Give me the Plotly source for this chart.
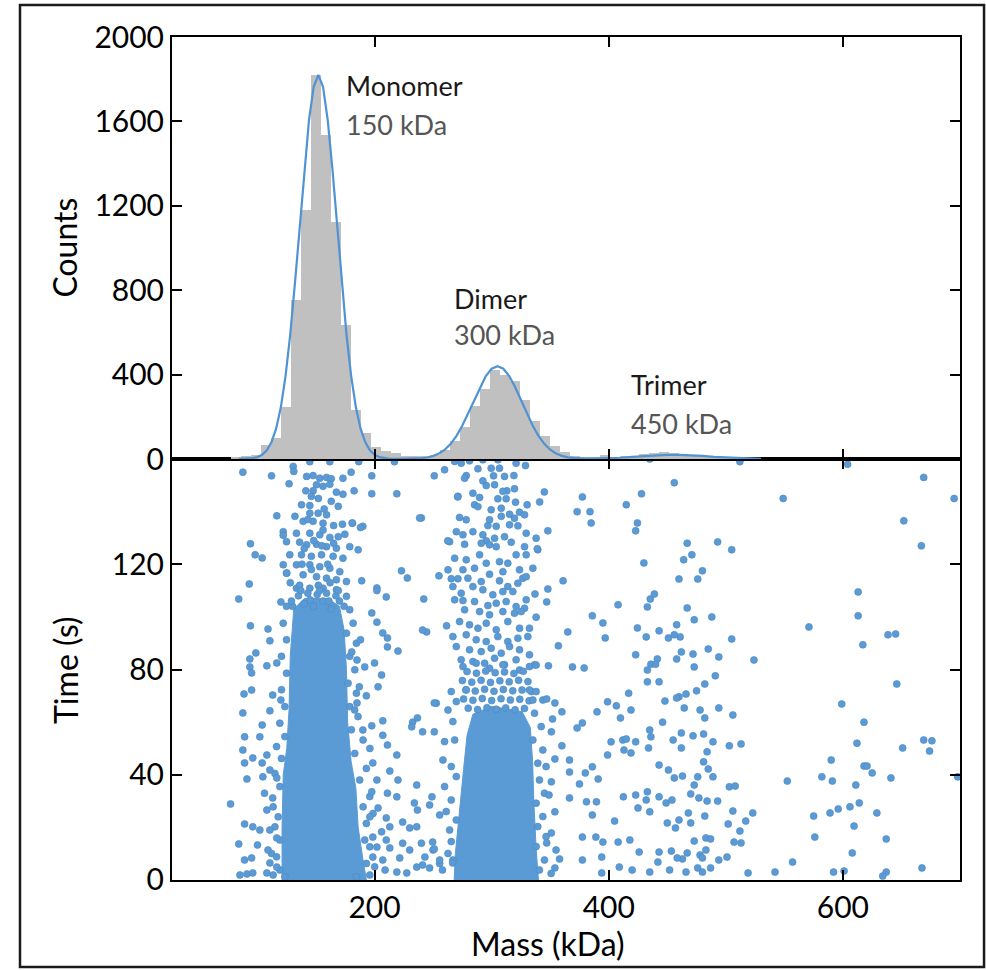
import plotly.graph_objects as go

# ---- histogram (top panel) ----
hist_mass = [82, 90.5, 99, 107.5, 116, 124.5, 133, 141.5, 150, 158.5, 167, 175.5, 184, 192.5,
             201, 209.5, 218, 226.5, 235, 243.5, 252, 260.5, 269, 277.5, 286, 294.5, 303, 311.5,
             320, 328.5, 337, 345.5, 354, 362.5, 371, 379.5, 388, 396.5, 405, 413.5, 422, 430.5,
             439, 447.5, 456, 464.5, 473, 481.5, 490, 498.5, 507, 515.5, 524]
hist_counts = [8, 15, 20, 66, 100, 246, 754, 1180, 1820, 1535, 1123, 635, 232, 123,
               55, 40, 30, 15, 12, 14, 20, 45, 85, 150, 250, 330, 420, 400,
               370, 280, 180, 110, 60, 35, 15, 10, 8, 18, 10, 12, 15, 25,
               30, 32, 30, 25, 15, 12, 10, 8, 5, 4, 3]

fit_mass = [84, 88, 92, 96, 100, 104, 108, 112, 116, 120, 124, 128, 132, 136, 140, 144, 148, 152,
            156, 160, 164, 168, 172, 176, 180, 184, 188, 192, 196, 200, 204, 208, 212, 220, 228,
            235, 240, 245, 250, 255, 260, 265, 270, 275, 280, 285, 290, 295, 300, 305, 310, 315,
            320, 325, 330, 335, 340, 345, 350, 355, 360, 365, 370, 375, 380, 390, 400, 410, 420,
            430, 440, 450, 460, 470, 480, 490, 500, 510, 520, 530]
fit_counts = [1, 1, 2, 4, 9, 20, 41, 80, 145, 246, 394, 591, 833, 1104, 1374, 1606, 1764, 1820,
              1764, 1606, 1374, 1104, 833, 591, 394, 246, 145, 80, 41, 20, 9, 4, 2, 1, 1,
              2, 4, 7, 14, 26, 44, 72, 110, 159, 217, 280, 341, 393, 428, 440, 428, 393,
              341, 280, 217, 159, 110, 72, 44, 26, 15, 8, 5, 3, 2, 3, 4, 6, 10,
              14, 18, 20, 20, 18, 15, 10, 7, 4, 2, 1]

peak_labels = ["Monomer", "Dimer", "Trimer"]
peak_masses = ["150 kDa", "300 kDa", "450 kDa"]
label_x = [174, 266, 417]
label_y = [1772, 763, 351]
sub_y = [1583, 592, 166]

# ---- mass photometry events (bottom panel), (mass kDa, time s) ----
# dense cores, outlined
mono_core = [(121, 0), (193, 0), (190, 8), (186, 20), (184, 35), (180, 45), (177, 60), (176, 80),
             (174, 95), (170, 104), (160, 107), (140, 107), (131, 103), (128, 85), (127, 65),
             (125, 50), (122, 40), (121, 20), (121, 0)]
dimer_core = [(268, 0), (340, 0), (338, 12), (336, 30), (335, 45), (333, 58), (326, 64), (300, 66),
              (284, 63), (279, 55), (276, 42), (272, 25), (269, 10), (268, 0)]

mono_pts = [(130.5, 157.2), (131, 155.3), (144.7, 159), (161.8, 159), (142, 153.4), (147.5, 153.7),
            (153.2, 152.7), (159, 153), (163, 152.5), (173, 152.7), (180, 155), (150.4, 150.2),
            (156, 149.6), (161.8, 150.4), (141.3, 147.9), (147.5, 147.9), (167.4, 147.4), (173, 146.6),
            (182.5, 147.9), (146, 145.8), (137.6, 142.6), (144.7, 142.3), (163, 143.9), (169, 142),
            (144.7, 139.4), (151.8, 139.4), (159, 138.8), (132, 138.2), (139, 136.3), (147.5, 136.3),
            (156, 135.6), (165, 134.7), (172.6, 135.2), (181, 135.6), (190, 134.4), (122, 132.4),
            (133.3, 131.8), (144.7, 131.8), (153.2, 131.2), (161.8, 130.2), (169, 130.5), (174.6, 131.4),
            (124.8, 128.6), (136, 128.4), (142, 127.4), (150.4, 127.6), (159, 126.7), (167.4, 126.1),
            (178.8, 126.7), (186, 125.5), (127.6, 123.6), (137.6, 123.6), (146, 123), (154.7, 123.6),
            (164.6, 123), (173, 122.3), (122, 119.8), (133.3, 119.8), (144.7, 119.8), (153.2, 119.1),
            (161.8, 118.5), (170.3, 117.2), (124.8, 116.6), (139, 116), (150.4, 115.3), (159, 114.7),
            (167.4, 114.1), (176, 113.4), (133.3, 110.9), (144.7, 110.9), (156, 110.9), (167.4, 110.3),
            (140, 105), (148, 104), (156, 106), (163, 103), (135, 108), (152, 112), (160, 120),
            (140, 126), (148, 129), (156, 133), (143, 137), (152, 145), (157, 141), (138, 120),
            (165, 128), (130, 104), (170, 106), (128, 113), (146, 118), (155, 127),
            (143, 109), (151, 108.5), (159, 109), (167, 108), (136, 112), (162, 113),
            (129, 106), (137, 110), (145, 106.5), (153, 110), (161, 106), (169, 110), (174, 104),
            (116.3, 50.7), (120.5, 46.2), (114.9, 40.5), (119.1, 35.5), (113.4, 27.8), (117.7, 24),
            (114.9, 20.2), (119.1, 15.2), (112, 10.1), (116.3, 8.8), (119.1, 3.8), (113.4, 1.9),
            (123.4, 1.2), (190.2, 53.2), (183.1, 48.1), (193, 42.4), (187.3, 38), (195.9, 31.7),
            (190.2, 27.8), (198.7, 25.3), (193, 21.5), (191.6, 15.2), (195.9, 12.6), (193, 6.3),
            (200.1, 5), (195.9, 1.9), (184.5, 1.2), (124.8, 104), (122, 97.6), (124.8, 91.3),
            (120.5, 85), (124.8, 78.6), (120.5, 72.3), (123.4, 65.9), (119.1, 59.6), (123.4, 54.5),
            (176, 107.8), (178.8, 102.7), (181.7, 97.6), (176, 93.8), (184.5, 90), (178.8, 85),
            (183.1, 79.9), (177.4, 74.8), (184.5, 71), (178.8, 65.9), (185.9, 62.1), (180.2, 57.1)]

dimer_pts = [(268.4, 159.1), (274, 158.4), (281.1, 159.3), (292.5, 159.7), (305.3, 159.7), (320.9, 158.4),
             (328.9, 157.5), (259.8, 155.9), (278.3, 153.7), (288.3, 156.3), (299.6, 156.5), (306.7, 156.5),
             (301.6, 153.6), (311, 153.4), (319, 153.7), (276.9, 152.7), (292.5, 151.7), (295.4, 149.9),
             (302.5, 150.2), (313, 147.9), (319.5, 148.7), (309.6, 147.7), (271.2, 145.8), (284, 147),
             (289.7, 145.4), (305.3, 144.9), (312.4, 144.9), (320.4, 143.6), (330.3, 142.6), (285.4, 142.6),
             (288.3, 141.9), (299.6, 140.7), (308.2, 141.3), (315.3, 139), (323.8, 139.8), (328.1, 138.8),
             (272.6, 137.8), (278.3, 136.9), (298.2, 136.9), (308.2, 138.2), (319.5, 137.5), (296.8, 134.7),
             (303.9, 134.4), (315.3, 135), (322.4, 134.6), (269.8, 132.4), (275.5, 131.2), (284, 132.4),
             (292.5, 131.2), (295.4, 128.9), (302.5, 129.9), (311, 130.5), (329.5, 131.8), (338, 129.9),
             (264.1, 128.6), (276.9, 127.6), (291.1, 128), (298.2, 127.4), (303.9, 126.7), (316.7, 128.4),
             (328.1, 126.7), (339.4, 125.5), (268.4, 122.3), (278.3, 121.7), (289.7, 123.6), (295.4, 120.4),
             (306.7, 121), (313.8, 120.4), (320.9, 123.6), (329.5, 123.6), (262.7, 117.9), (275.5, 117.9),
             (285.4, 118.5), (298.2, 116.2), (309.6, 117.2), (323.8, 117.9), (326.6, 114.7), (335.2, 118.5),
             (265.5, 114.5), (271.2, 114.5), (279.7, 114.7), (291.1, 113.4), (306.7, 113.7), (313.8, 111.5),
             (322.4, 112.8), (329.5, 115.3), (266.9, 111.5), (274, 109), (284, 111.5), (292.5, 110.3),
             (301, 108.4), (309.6, 109.6), (318.1, 109.6), (329.5, 106.5), (268.4, 106.5), (275.5, 106.2),
             (285.4, 105.8), (296.8, 104.3), (303.9, 105.2), (312.4, 105.8), (320.9, 103.9), (328.1, 103.3),
             (276.9, 102.7), (289.7, 102), (298.2, 100.8), (309.6, 102), (319.5, 101.4), (325.2, 102),
             (272.6, 98.2), (281.1, 97), (288.3, 95.7), (295.4, 97.6), (303.9, 95.1), (313.8, 98.2),
             (323.8, 95.7), (332.3, 95.7), (338, 99.9), (266.9, 92.5), (278.3, 93.2), (286.8, 91.3),
             (295.4, 90.6), (305.3, 92.5), (313.8, 90.6), (322.4, 91.9), (330.9, 92.5), (269.8, 88.7),
             (281.1, 87.5), (291.1, 86.8), (299.6, 88.1), (308.2, 86.2), (315.3, 88.7), (323.8, 87.5),
             (332.3, 85.6), (274, 83.7), (284, 83), (294, 82.4), (302.5, 84.3), (311, 81.8),
             (320.9, 83.7), (336.6, 81.8), (275.5, 81.1), (286.8, 82.4), (298.2, 80.5), (309.6, 81.8),
             (323.8, 79.8), (332.3, 81.1), (279, 79.2), (287, 78.6), (295, 79.4), (303, 78.8),
             (311, 79.1), (319, 78.5), (327, 79.3), (275, 75.8), (283, 75.2), (291, 75.9), (299, 75.1),
             (307, 75.7), (315, 75.3), (323, 75.9), (331, 75.4), (278, 72.3), (286, 71.8), (294, 72.5),
             (302, 71.7), (310, 72.4), (318, 71.9), (326, 72.2), (334, 71.6), (276, 68.8), (284, 68.3),
             (292, 69), (300, 68.2), (308, 68.9), (316, 68.4), (324, 68.7), (332, 68.1), (280, 65.3),
             (288, 64.8), (296, 65.5), (304, 64.9), (312, 65.4), (320, 64.7), (328, 65.2),
             (252.7, 67.2), (265.5, 71.6), (269.8, 67.8), (262.7, 64.6), (266.9, 60.2), (259.8, 52.6),
             (268.4, 53.2), (258.4, 45.6), (265.5, 43.1), (259.8, 35.5), (269.8, 39.3), (265.5, 30.4),
             (261.2, 26), (269.8, 22.8), (264.1, 19), (265.5, 14.6), (262.7, 10.1), (266.9, 7.6),
             (255.6, 6.3), (249.9, 11.4), (338, 71.6), (343.7, 68.4), (336.6, 63.4), (342.3, 58.3),
             (335.2, 53.2), (343.7, 49.4), (339.4, 44.4), (346.5, 43.1), (340.8, 38), (345.1, 33),
             (338, 29.2), (343.7, 24.1), (339.4, 20.3), (346.5, 16.5), (338, 12.7), (345.1, 7.6),
             (340.8, 3.8), (350.8, 2.5), (278.3, 72.2), (332.3, 72.2), (335.2, 68.4)]

sparse_pts = [(512, 159), (604, 158), (669, 153), (549, 145), (695, 145), (652, 136.5), (667, 127),
              (467, 128), (493, 128.5), (505, 125.5), (471, 123.6), (464, 121.7), (480, 117.5),
              (476, 114.4), (460, 114.4), (613, 109.5), (613, 100.4), (467, 103.4), (488, 100),
              (473, 98.9), (571, 96.2), (638.5, 93.2), (645, 93.5), (617, 89.4), (461, 92.4),
              (505, 91.6), (485, 87.8), (472, 85.9), (462, 86.7), (494, 84.8), (473, 81), (524, 83.6),
              (491, 77.6), (482, 74.5), (466, 70.7), (475, 71.9), (646, 74.5), (599, 66.9), (460, 69.6),
              (464.5, 65.4), (478, 64.6), (494, 65.4), (482, 61.6), (506, 62.7), (618, 60), (462, 55.9),
              (472, 54.8), (481, 55.5), (489, 52.5), (503, 51), (513, 51.7), (612, 52), (669, 53.2),
              (676, 52.9), (674, 49), (651, 50.2), (462, 50.2), (484, 48.7), (590, 45.6), (481, 44.9),
              (485, 42.2), (618, 43.3), (620.6, 43.3), (625, 40.7), (641, 38.8), (582, 39.2), (591, 37.6),
              (552.5, 37.6), (463, 39.5), (476, 39.2), (489, 39.2), (473, 36.1), (503, 35.4), (508, 35.7),
              (611, 36.1), (698, 39.2), (470, 32.7), (477, 31.2), (484, 30), (493, 30), (614, 29.3),
              (606, 27.8), (596, 27), (589, 25.5), (629, 25.5), (575, 24.3), (523, 25.5), (506, 26.2),
              (482, 24.3), (468, 25.5), (470, 21.7), (460, 22.8), (502, 21.3), (517, 22.4), (609.5, 20.5),
              (512, 18.6), (576, 16.3), (637, 15.6), (473, 14.8), (483, 16), (487, 15.6), (507, 14.4),
              (513, 14.1), (483, 11.4), (467, 10.3), (463, 8), (478, 9.5), (480, 8.4), (494, 7.6),
              (501, 8.7), (608, 10.3), (557, 6.8), (476, 4.6), (487, 4.6), (480, 3), (466, 3),
              (519, 2.7), (542, 3), (592, 3), (601, 3.4), (637, 3), (667.5, 4.6), (634, 1.5),
              (456, 151), (435, 160), (377.5, 145.6), (373, 140), (384, 140), (385, 135.7), (415, 142.6),
              (428, 146.8), (424.5, 135.7), (423, 132.7), (430, 120.5), (361, 113.7), (348, 132.7),
              (339, 125.9), (345, 147.5), (341, 143.7), (348, 110.6), (347, 105.7), (337, 108.7),
              (408, 104.6), (435.5, 106.8), (439, 108.7), (433, 103.8), (386, 100.4), (395, 97.7),
              (365, 94.3), (397, 92), (424.5, 95.8), (432, 92.4), (443, 94.7), (451, 92), (456, 93.2),
              (458, 97), (357, 89), (423, 85.6), (441.5, 84), (436, 82), (458, 84), (369, 81),
              (379, 80.6), (348.5, 81.4), (338, 81.7),
              (347, 68.8), (354, 67.3), (360, 63.9), (352, 61.2), (351, 56.3), (360, 51), (354, 46),
              (351, 37.3), (349, 32.3), (354, 25.9), (351, 17.9), (347, 14.1), (355, 11.4), (358, 8),
              (354, 4.6), (390, 63.9), (399, 67.7), (406.5, 66.2), (410, 61.6), (417, 71), (419, 64.6),
              (433, 79.8), (433, 75.3), (443, 75.3), (440, 82), (448, 68), (458, 69.2), (377.5, 59.7),
              (373, 57.8), (402, 52.5), (399, 47.5), (412, 53.2), (415, 53.6), (423, 52.5), (413, 49.4),
              (419, 48.3), (435, 57), (436, 54.4), (446, 60), (455, 53.2), (434, 50.2), (443, 43.7),
              (451, 41.8), (456, 38.8), (386, 43), (380, 40.7), (391, 38.4), (375, 36.5), (366.5, 45.6),
              (366.5, 41), (366.5, 31.2), (381, 29.7), (389.5, 29.7), (386, 24.7), (412.5, 31.6),
              (423, 32.3), (432, 30.4), (433, 33.5), (443, 31.6), (449, 29.3), (454, 30.4), (425, 27.4),
              (435, 25.9), (450, 21.7), (457, 19.8), (405, 22.4), (408, 14.4), (418, 15.2), (377.5, 16.3),
              (389, 16.3), (395, 14.4), (394, 8.7), (377.5, 7.6), (426, 10.6), (443, 10.6), (453.5, 11),
              (442, 6.8), (458.5, 8.4), (409, 4.9), (420, 3.8), (435, 3), (394, 2.7), (452, 3.8),
              (251, 153.6), (240, 137.6), (255, 115.6), (242, 106.8), (244.5, 94.3), (241, 95),
              (261.5, 96.6), (262.5, 128.9), (271, 145.6), (251, 67.3), (241, 56.3), (251, 56.3),
              (249, 31.6), (247, 28.5), (255.6, 24.7), (249.6, 14.4), (251, 11.8), (243, 8.7),
              (255.6, 7.6), (247, 4.6), (258, 3.8), (266.7, 6.5),
              (197.6, 153.6), (186.5, 159), (219, 146.8), (197.6, 146.8), (217, 159), (238.5, 137.6),
              (188, 134), (181, 135.7), (223, 117.5), (228, 114.8), (189, 113.7), (202, 111),
              (210, 107.6), (202, 110), (197.6, 101.5), (202, 98), (207, 93.9), (211, 92), (211, 88.6),
              (220, 87), (188, 91.3), (180.5, 86.7), (185, 83.6), (200, 82.5), (191.6, 81), (206, 77.9),
              (187, 73.4), (203, 73.4), (193, 70), (185, 67.3), (183, 64.6), (197.6, 58.6), (207, 60.5),
              (232.5, 60), (236.6, 61.6), (190, 57), (207, 55), (231.7, 58.2),
              (196, 50), (211, 51.3), (219, 47.5), (198.5, 44.5), (213, 41.4), (220, 38), (236, 36.1),
              (202, 38), (197.6, 33.5), (211, 33), (219, 31.6), (234, 29.3), (236.6, 26.6), (203, 27.4),
              (196, 24), (210, 23.6), (224, 22), (230, 19.8), (236, 20.2), (213, 20.2), (206, 18.3),
              (198.5, 16.3), (210, 15.2), (224, 14), (240, 14), (202, 12.5), (213, 12.2), (230, 11.4),
              (198.5, 8.7), (207, 7.6), (221.5, 8.4), (236, 4.9), (241, 5.7), (209, 3.8), (219, 3),
              (227.5, 2.7),
              (87.5, 155), (112, 153.6), (127, 150.6), (116.5, 138.4), (94, 127.8), (98, 123.6),
              (104, 122.4), (93, 112.5), (122, 131), (125, 116.7),
              (84, 106.8), (120, 105.7), (94, 96.6), (109, 95.4), (110.6, 90.9), (98.6, 86.3), (93.5, 84),
              (93.5, 81), (95, 78.7), (108, 81.4), (116.5, 82.5), (95, 72.2), (88.5, 70.7), (113, 70.3),
              (87.5, 63.5), (110.6, 64.3), (104, 58.9), (89, 54.4), (102, 54.4), (120, 68.4),
              (87.5, 49.4), (89, 44.5), (96, 46.4), (108, 47.5), (104, 44.5), (110.6, 41.8), (91, 38.4),
              (104.6, 39.2), (116.5, 38.8), (77, 28.9), (106, 33), (113, 31.2), (108, 26.6), (89, 21.3),
              (96, 20.2), (102, 19), (110.6, 19), (116.5, 16), (84, 13.7), (100, 13.3), (109, 11.4),
              (89, 7.6), (95, 8.4), (110.6, 6.5), (116.5, 4.9), (85, 1.9), (91, 2.3), (96, 2.7), (108, 2.7)]

BLUE = "#5b9bd5"
FONT = "Lato"

fig = go.Figure()

# top: histogram + fit
fig.add_trace(go.Bar(x=hist_mass, y=hist_counts, width=8.5, marker=dict(color="#c0c0c0", line_width=0),
                     xaxis="x2", yaxis="y2", showlegend=False))
fig.add_trace(go.Scatter(x=fit_mass, y=fit_counts, mode="lines", line=dict(color="#4f93d2", width=2.2),
                         xaxis="x2", yaxis="y2", showlegend=False))

# bottom: events
for core in (mono_core, dimer_core):
    cx, cy = zip(*core)
    fig.add_trace(go.Scatter(x=cx, y=cy, mode="lines", fill="toself", fillcolor=BLUE,
                             line=dict(color=BLUE, width=1), xaxis="x", yaxis="y", showlegend=False))
all_pts = mono_pts + dimer_pts + sparse_pts
px_, py_ = zip(*all_pts)
fig.add_trace(go.Scatter(x=px_, y=py_, mode="markers",
                         marker=dict(color=BLUE, size=7, line=dict(color="#4d86bf", width=0.6)),
                         xaxis="x", yaxis="y", showlegend=False))

# peak labels
for name, kda, lx, ly, sy in zip(peak_labels, peak_masses, label_x, label_y, sub_y):
    fig.add_annotation(x=lx, y=ly, xref="x2", yref="y2", text=name, showarrow=False,
                       xanchor="left", yanchor="middle", font=dict(family=FONT, size=27, color="#1a1a1a"))
    fig.add_annotation(x=lx, y=sy, xref="x2", yref="y2", text=kda, showarrow=False,
                       xanchor="left", yanchor="middle", font=dict(family=FONT, size=27, color="#555555"))

# axis titles
title_font = dict(family=FONT, size=32, color="black")
fig.add_annotation(x=-0.136, y=0.75, xref="paper", yref="paper", text="Counts", textangle=-90,
                   xanchor="center", yanchor="middle", showarrow=False, font=title_font)
fig.add_annotation(x=-0.136, y=0.249, xref="paper", yref="paper", text="Time (s)", textangle=-90,
                   xanchor="center", yanchor="middle", showarrow=False, font=title_font)
fig.add_annotation(x=0.477, y=-0.075, xref="paper", yref="paper", text="Mass (kDa)",
                   xanchor="center", yanchor="middle", showarrow=False, font=title_font)

# outer frame
fig.add_shape(type="rect", xref="paper", yref="paper", x0=-0.1929, x1=1.0305, y0=-0.1032, y1=1.038,
              line=dict(color="#1a1a1a", width=2.5))

axis_common = dict(showline=True, linecolor="black", linewidth=2, mirror="ticks", ticks="inside",
                   ticklen=10, tickwidth=2, tickcolor="black", showgrid=False, zeroline=False,
                   tickfont=dict(family=FONT, size=30, color="black"))
split = 0.4994
fig.update_layout(
    width=986, height=970,
    margin=dict(l=172, r=26, t=37, b=90, autoexpand=False),
    paper_bgcolor="white", plot_bgcolor="white",
    bargap=0,
    xaxis=dict(domain=[0, 1], anchor="y", range=[27, 700], tickvals=[200, 400, 600], **axis_common),
    yaxis=dict(domain=[0, split], anchor="x", range=[0, 160], tickvals=[0, 40, 80, 120], **axis_common),
    xaxis2=dict(domain=[0, 1], anchor="y2", matches="x", range=[27, 700], tickvals=[200, 400, 600],
                showticklabels=False, **axis_common),
    yaxis2=dict(domain=[split, 1], anchor="x2", range=[0, 2000],
                tickvals=[0, 400, 800, 1200, 1600, 2000], **axis_common),
)

fig.write_html("out.html", config={"displayModeBar": False},
               post_script="document.body.style.margin='0';")
